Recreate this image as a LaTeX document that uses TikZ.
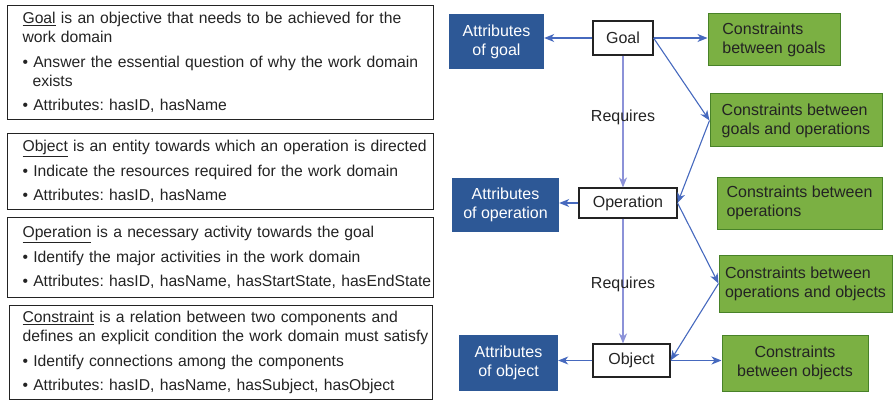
\documentclass[tikz,border=0pt]{standalone}
\usepackage{fontspec}
\setmainfont{Liberation Sans}
\usetikzlibrary{arrows.meta,positioning}

\definecolor{attrblue}{RGB}{45,88,150}
\definecolor{consgreen}{RGB}{123,176,67}
\definecolor{consedge}{RGB}{72,130,40}
\definecolor{linkblue}{RGB}{70,105,190}
\definecolor{reqblue}{RGB}{140,146,216}
\definecolor{inkgray}{RGB}{35,35,35}

\frenchspacing
\newcommand{\defsize}{\fontsize{15.7}{19}\selectfont\setlength{\parskip}{5.5pt}%
  \hyphenpenalty=10000\exhyphenpenalty=10000}
\newcommand{\boxsize}{\fontsize{16}{19}\selectfont}
% one bullet point with hanging indent
\newcommand{\defitem}[1]{\par\hangindent=10pt\hangafter=1\noindent\textbullet\ #1}

\tikzset{
  defbox/.style={draw=inkgray, line width=1.1pt, text=inkgray, font=\defsize,
    text width=396pt, inner xsep=15pt, inner ysep=0pt, align=left, anchor=north west},
  concept/.style={draw=inkgray, line width=1.1pt, text=inkgray, font=\boxsize, inner sep=0pt},
  attrbox/.style={fill=attrblue, text=white, font=\boxsize, inner sep=0pt, align=center},
  consbox/.style={fill=consgreen, draw=consedge, line width=1pt, text=inkgray, font=\boxsize,
    inner sep=0pt, align=left},
  link/.style={draw=linkblue, line width=1.1pt, -{Stealth[length=10pt,width=8pt,inset=3pt]}},
  requires/.style={link, draw=reqblue},
}

\begin{document}
\begin{tikzpicture}[x=1pt,y=-1pt]
\useasboundingbox (0,0) rectangle (894,401);

% definitions on the left
\node[defbox, minimum height=114pt] (goaldef) at (7,5)
  {\underline{Goal} is an objective that needs to be achieved for the work domain
   \defitem{Answer the essential question of why the work domain exists}
   \defitem{Attributes: hasID, hasName}};
\node[defbox, minimum height=76pt] (objdef) at (7,133)
  {\mbox{\underline{Object} is an entity towards which an operation is directed}
   \defitem{Indicate the resources required for the work domain}
   \defitem{Attributes: hasID, hasName}};
\node[defbox, minimum height=80pt] (opdef) at (7,217)
  {\underline{Operation} is a necessary activity towards the goal
   \defitem{Identify the major activities in the work domain}
   \defitem{\mbox{Attributes: hasID, hasName, hasStartState, hasEndState}}};
\node[defbox, minimum height=94pt, inner xsep=13pt, text width=397pt] (consdef) at (9,305)
  {\underline{Constraint} is a relation between two components and
   \mbox{defines an explicit condition the work domain must satisfy}
   \defitem{Identify connections among the components}
   \defitem{Attributes: hasID, hasName, hasSubject, hasObject}};

% components
\node[concept, minimum width=60pt, minimum height=34pt] (goal) at (623,38) {Goal};
\node[concept, minimum width=98pt, minimum height=30pt] (op) at (628,203) {Operation};
\node[concept, minimum width=77pt, minimum height=33pt] (obj) at (631.5,360.5) {Object};

% attributes
\node[attrbox, minimum width=95pt, minimum height=55pt] (goalattr) at (496.5,41.5) {Attributes\\of goal};
\node[attrbox, minimum width=107pt, minimum height=54pt] (opattr) at (505.5,205) {Attributes\\of operation};
\node[attrbox, minimum width=99pt, minimum height=56pt] (objattr) at (508.5,363) {Attributes\\of object};

% constraints
\node[consbox, minimum width=132pt, minimum height=52pt] (goalcons) at (774,40) {Constraints\\between goals};
\node[consbox, minimum width=172pt, minimum height=53pt] (goalopcons) at (796,120.5) {Constraints between\\goals and operations};
\node[consbox, minimum width=165pt, minimum height=52pt] (opcons) at (799.5,203) {Constraints between\\operations};
\node[consbox, minimum width=173pt, minimum height=57pt] (opobjcons) at (805.5,283.5) {Constraints between\\operations and objects};
\node[consbox, minimum width=146pt, minimum height=56pt, align=center] (objcons) at (795,363) {Constraints\\between objects};

% links
\draw[link] (goal.west) -- (goal.west -| goalattr.east);
\draw[link] (goal.east) -- (goal.east -| goalcons.west);
\draw[link] (goal.east) -- (goalopcons.west);
\draw[link] (goalopcons.west) -- (op.east);
\draw[link] (op.west) -- (op.west -| opattr.east);
\draw[link] (op.east) -- (opobjcons.west);
\draw[link] (opobjcons.west) -- (obj.east);
\draw[link] (obj.west) -- (obj.west -| objattr.east);
\draw[link] (obj.east) -- (obj.east -| objcons.west);

\draw[requires] (goal.south) -- (goal.south |- op.north)
  node[pos=0.47, text=inkgray, font=\boxsize] (req1) {Requires};
\draw[requires] (goal.south |- op.south) -- (goal.south |- obj.north)
  node[pos=0.53, text=inkgray, font=\boxsize] (req2) {Requires};
\end{tikzpicture}
\end{document}
